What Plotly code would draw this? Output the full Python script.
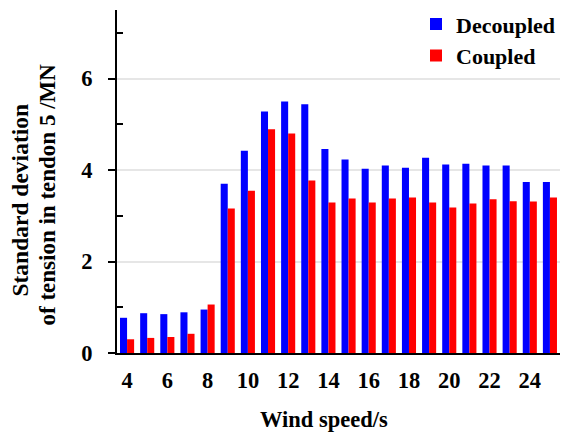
import plotly.graph_objects as go

wind_speed = list(range(4, 26))
decoupled = [0.77, 0.87, 0.85, 0.89, 0.95, 3.70, 4.42, 5.28, 5.50, 5.44, 4.46, 4.23,
             4.03, 4.10, 4.05, 4.27, 4.12, 4.14, 4.10, 4.10, 3.74, 3.74]
coupled = [0.30, 0.33, 0.35, 0.42, 1.06, 3.16, 3.55, 4.89, 4.80, 3.77, 3.29, 3.38,
           3.29, 3.38, 3.40, 3.29, 3.18, 3.27, 3.36, 3.32, 3.31, 3.40]
x_ticks = list(range(4, 25, 2))
y_ticks = [0, 2, 4, 6]
x_title = "Wind speed/s"
y_title_lines = ["Standard deviation", "of tension in tendon 5 /MN"]

FONT = "Liberation Serif"
FS = 22.5

fig = go.Figure()
fig.add_trace(go.Bar(x=wind_speed, y=decoupled, name="Decoupled",
                     marker=dict(color="#0000ff", line=dict(width=0))))
fig.add_trace(go.Bar(x=wind_speed, y=coupled, name="Coupled",
                     marker=dict(color="#ff0000", line=dict(width=0))))

fig.update_layout(
    width=562, height=432,
    margin=dict(l=117, r=2, t=10, b=79),
    plot_bgcolor="white", paper_bgcolor="white",
    barmode="group", bargap=0.3, bargroupgap=0,
    font=dict(family=FONT, size=FS, color="black", weight="bold"),
    showlegend=True,
    legend=dict(x=1.0, xanchor="right", y=1.02, yanchor="top",
                font=dict(family=FONT, size=22, weight="bold"),
                bgcolor="rgba(0,0,0,0)", itemwidth=30, tracegroupgap=0),
    xaxis=dict(range=[3.5, 25.5], tickvals=x_ticks, ticks="", showgrid=False,
               showline=True, linecolor="black", linewidth=2, zeroline=False,
               ticklabelstandoff=6,
               tickfont=dict(family=FONT, size=FS, weight="bold")),
    yaxis=dict(range=[0, 7.5], tickvals=y_ticks, ticks="outside", ticklen=7,
               tickwidth=2, tickcolor="black",
               showgrid=True, gridcolor="#e6e6e6", gridwidth=1.5,
               showline=True, linecolor="black", linewidth=2, zeroline=False,
               ticklabelstandoff=11,
               minor=dict(tickvals=[1, 3, 5, 7], ticks="inside", ticklen=6,
                          tickwidth=1.5, tickcolor="black", showgrid=False),
               tickfont=dict(family=FONT, size=FS, weight="bold")),
    yaxis2=dict(range=[0, 7.5], overlaying="y", side="left", tickvals=y_ticks,
                ticks="inside", ticklen=6, tickwidth=2, tickcolor="black",
                showticklabels=False, showgrid=False, zeroline=False,
                showline=False),
)

fig.add_annotation(text=x_title, xref="paper", yref="paper", x=0.467, y=-0.195,
                   xanchor="center", yanchor="middle", showarrow=False,
                   font=dict(family=FONT, size=FS, weight="bold"))
fig.add_annotation(text=y_title_lines[0], xref="paper", yref="paper", x=-0.2178,
                   y=0.446, xanchor="center", yanchor="middle", showarrow=False,
                   textangle=-90, font=dict(family=FONT, size=23.5, weight="bold"))
fig.add_annotation(text=y_title_lines[1], xref="paper", yref="paper", x=-0.1569,
                   y=0.4636, xanchor="center", yanchor="middle", showarrow=False,
                   textangle=-90, font=dict(family=FONT, size=23, weight="bold"))

fig.write_html("out.html")
